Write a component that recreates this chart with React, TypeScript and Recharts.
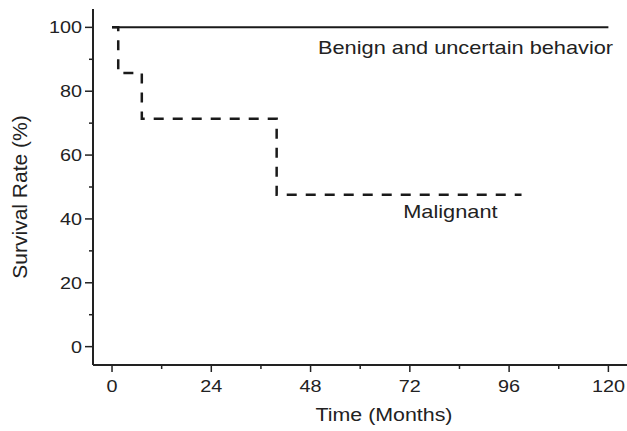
import React from 'react';
import { LineChart, Line, XAxis, YAxis, ReferenceDot } from 'recharts';

// Kaplan–Meier steps (time in months, survival in %)
const malignantTime = [0, 1.5, 7.2, 39.8, 99];
const malignantSurvival = [100, 85.7, 71.4, 47.6, 47.6];
const benignTime = [0, 120];
const benignSurvival = [100, 100];

const xMajorTicks = [0, 24, 48, 72, 96, 120];
const xMinorTicks = [12, 36, 60, 84, 108];
const yMajorTicks = [0, 20, 40, 60, 80, 100];
const yMinorTicks = [10, 30, 50, 70, 90];

const benignLabel = 'Benign and uncertain behavior';
const malignantLabel = 'Malignant';
const xTitle = 'Time (Months)';
const yTitle = 'Survival Rate (%)';

const malignantData = malignantTime.map((t, i) => ({ t, s: malignantSurvival[i] }));
const benignData = benignTime.map((t, i) => ({ t, s: benignSurvival[i] }));

const FONT = '"Liberation Sans", Arial, Helvetica, sans-serif';
const INK = '#222';

const ScaledText = ({ x, y, anchor, size, sx, children }: any) => (
  <text
    transform={`translate(${x},${y}) scale(${sx},1)`}
    x={0}
    y={0}
    textAnchor={anchor}
    fontSize={size}
    fontFamily={FONT}
    fill={INK}
  >
    {children}
  </text>
);

const XTick = (props: any) => {
  const { x, y, payload } = props;
  const major = xMajorTicks.includes(payload.value);
  return (
    <g>
      <line x1={x} y1={y} x2={x} y2={y + (major ? 7 : 4)} stroke={INK} strokeWidth={1.5} />
      {major && (
        <ScaledText x={x} y={y + 27} anchor="middle" size={17} sx={1.165}>
          {payload.value}
        </ScaledText>
      )}
    </g>
  );
};

const YTick = (props: any) => {
  const { x, y, payload } = props;
  const major = yMajorTicks.includes(payload.value);
  return (
    <g>
      <line x1={x} y1={y} x2={x - (major ? 8 : 4)} y2={y} stroke={INK} strokeWidth={1.5} />
      {major && (
        <ScaledText x={x - 11} y={y + 6} anchor="end" size={17} sx={1.165}>
          {payload.value}
        </ScaledText>
      )}
    </g>
  );
};

export default function App() {
  const xTicks = [...xMajorTicks, ...xMinorTicks].sort((a, b) => a - b);
  const yTicks = [...yMajorTicks, ...yMinorTicks].sort((a, b) => a - b);
  return (
    <div style={{ position: 'absolute', left: 0, top: 0 }}>
      <LineChart width={627} height={431} margin={{ top: 9, right: 0, bottom: 0, left: 0 }}>
        <XAxis
          type="number"
          dataKey="t"
          domain={[-4.6, 124.5]}
          allowDataOverflow
          ticks={xTicks}
          interval={0}
          tickLine={false}
          tickSize={0}
          tickMargin={0}
          tick={XTick}
          height={66}
          axisLine={{ stroke: INK, strokeWidth: 2 }}
          label={(p: any) => {
            const vb = p.viewBox;
            return (
              <ScaledText x={vb.x + 291} y={vb.y + 56} anchor="middle" size={18.6} sx={1.15}>
                {xTitle}
              </ScaledText>
            );
          }}
        />
        <YAxis
          type="number"
          dataKey="s"
          domain={[-5.75, 105.75]}
          allowDataOverflow
          ticks={yTicks}
          interval={0}
          tickLine={false}
          tickSize={0}
          tickMargin={0}
          tick={YTick}
          width={93}
          axisLine={{ stroke: INK, strokeWidth: 2 }}
          label={(p: any) => {
            const vb = p.viewBox;
            const cx = vb.x + 26.5;
            const cy = vb.y + vb.height / 2 + 10;
            return (
              <text
                x={cx}
                y={cy}
                transform={`rotate(-90, ${cx}, ${cy})`}
                textAnchor="middle"
                fontSize={21}
                fontFamily={FONT}
                fill={INK}
              >
                {yTitle}
              </text>
            );
          }}
        />
        <Line
          data={malignantData}
          dataKey="s"
          type="stepAfter"
          stroke="#1a1a1a"
          strokeWidth={2.5}
          strokeDasharray="10 9"
          dot={false}
          isAnimationActive={false}
        />
        <Line
          data={benignData}
          dataKey="s"
          type="stepAfter"
          stroke="#1a1a1a"
          strokeWidth={2}
          dot={false}
          isAnimationActive={false}
        />
        <ReferenceDot
          x={49.8}
          y={91.8}
          r={0}
          fill="none"
          stroke="none"
          label={(p: any) => (
            <ScaledText x={p.viewBox.x} y={p.viewBox.y} anchor="start" size={18.6} sx={1.17}>
              {benignLabel}
            </ScaledText>
          )}
        />
        <ReferenceDot
          x={70.4}
          y={40.3}
          r={0}
          fill="none"
          stroke="none"
          label={(p: any) => (
            <ScaledText x={p.viewBox.x} y={p.viewBox.y} anchor="start" size={18.6} sx={1.17}>
              {malignantLabel}
            </ScaledText>
          )}
        />
      </LineChart>
    </div>
  );
}
